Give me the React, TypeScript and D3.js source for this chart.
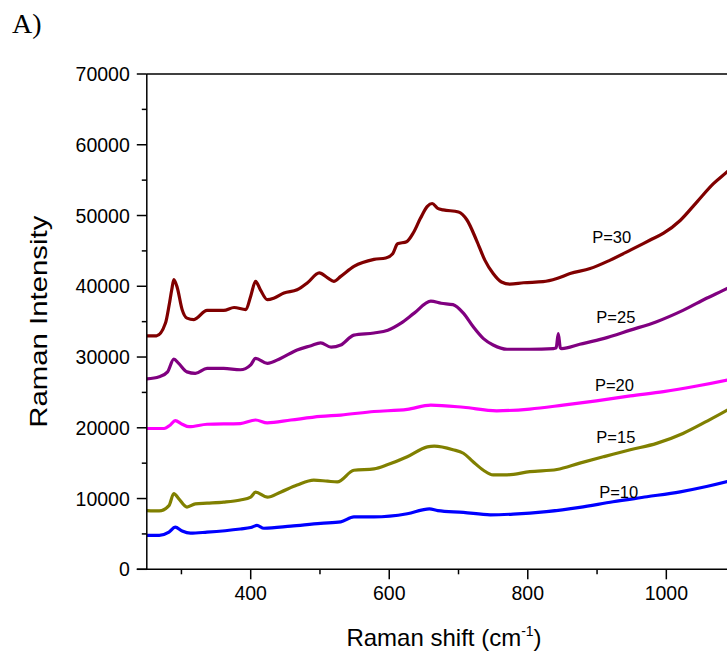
import React from "react";
import * as d3 from "d3";

const W = 727;
const H = 652;

const xTicksMajor = [400, 600, 800, 1000];
const xTicksMinor = [300, 500, 700, 900, 1100];
const yTicksMajor = [0, 10000, 20000, 30000, 40000, 50000, 60000, 70000];
const yTicksMinor = [5000, 15000, 25000, 35000, 45000, 55000, 65000];

const seriesNames = ["P=30", "P=25", "P=20", "P=15", "P=10"];
const seriesColors = ["#800000", "#800080", "#ff00ff", "#808000", "#0000ff"];

const p30x = [250, 264, 277, 282, 286, 289, 294, 301, 308, 318, 337, 361, 376, 393, 400, 407, 414, 424, 434, 448, 467, 482, 499, 511, 520, 530, 549, 578, 595, 605, 612, 625, 635, 645, 655, 662, 670, 678, 700, 712, 726, 738, 750, 762, 774, 794, 822, 842, 861, 890, 919, 948, 976, 996, 1020, 1044, 1068, 1088, 1100];
const p30y = [33000, 33000, 34800, 37200, 39500, 40950, 39800, 36700, 35500, 35300, 36600, 36600, 37000, 36700, 38600, 40700, 39500, 38100, 38350, 39050, 39500, 40500, 41900, 41200, 40700, 41400, 42800, 43800, 44000, 44600, 46000, 46300, 47600, 49600, 51300, 51700, 51000, 50800, 50500, 49400, 46500, 43700, 41800, 40600, 40300, 40500, 40650, 41100, 41800, 42500, 43700, 45100, 46500, 47500, 49300, 51900, 54500, 56200, 57300];

const p25x = [250, 268, 280, 289, 296, 308, 320, 337, 361, 385, 400, 407, 424, 443, 467, 487, 501, 516, 530, 549, 578, 598, 617, 636, 660, 675, 692, 707, 721, 736, 750, 770, 803, 837, 841, 844, 847, 849, 875, 909, 948, 986, 1024, 1058, 1088, 1100];
const p25y = [26900, 27200, 27900, 29700, 29100, 27900, 27700, 28400, 28400, 28200, 28900, 29800, 29100, 29800, 31000, 31600, 32000, 31400, 31700, 33100, 33400, 33800, 34800, 36200, 37900, 37600, 37400, 36200, 34300, 32600, 31700, 31100, 31100, 31200, 31300, 33300, 31300, 31200, 31800, 32600, 33800, 35000, 36600, 38300, 39700, 40300];

const p20x = [250, 275, 284, 291, 301, 311, 337, 385, 407, 424, 458, 501, 530, 578, 626, 660, 707, 755, 803, 851, 899, 948, 996, 1044, 1088, 1100];
const p20y = [19900, 19900, 20400, 21000, 20500, 20150, 20500, 20600, 21100, 20700, 21100, 21600, 21800, 22300, 22600, 23200, 22900, 22400, 22650, 23200, 23800, 24500, 25100, 25900, 26750, 27000];

const p15x = [250, 268, 282, 289, 296, 308, 320, 337, 361, 385, 400, 407, 424, 443, 467, 491, 511, 525, 549, 578, 598, 626, 655, 665, 692, 707, 721, 736, 750, 770, 803, 842, 875, 909, 948, 986, 1024, 1058, 1088, 1100];
const p15y = [8300, 8250, 9000, 10700, 10000, 8800, 9250, 9350, 9500, 9800, 10200, 10900, 10200, 10900, 11900, 12600, 12450, 12350, 14000, 14200, 14800, 15900, 17300, 17400, 16900, 16400, 15200, 14000, 13350, 13350, 13800, 14100, 15000, 15900, 16900, 17800, 19200, 20900, 22500, 23200];

const p10x = [250, 268, 282, 291, 301, 313, 337, 385, 400, 409, 419, 458, 501, 530, 549, 578, 626, 658, 670, 707, 746, 779, 827, 875, 923, 972, 1020, 1058, 1088, 1100];
const p10y = [4800, 4800, 5250, 5950, 5400, 5100, 5250, 5700, 5900, 6200, 5800, 6100, 6500, 6700, 7400, 7400, 7850, 8550, 8300, 8050, 7700, 7800, 8150, 8750, 9550, 10250, 10950, 11700, 12400, 12700];

const seriesX = [p30x, p25x, p20x, p15x, p10x];
const seriesY = [p30y, p25y, p20y, p15y, p10y];

// label anchors in data coordinates
const labelX = [893, 899, 897, 899, 903];
const labelY = [46150, 34840, 25190, 17800, 10030];

const x0 = 146.8;
const xPer = 0.6927;
const left = x0;
const right = x0 + (1100 - 250) * xPer;
const top = 74;
const bottom = 569.3;

export default function App() {
  const x = d3.scaleLinear().domain([250, 1100]).range([left, right]);
  const y = d3.scaleLinear().domain([0, 70000]).range([bottom, top]);
  const line = d3
    .line<[number, number]>()
    .x((d) => x(d[0]))
    .y((d) => y(d[1]))
    .curve(d3.curveMonotoneX);

  const font = "Arial, 'Liberation Sans', Helvetica, sans-serif";

  return (
    <svg
      width={W}
      height={H}
      style={{ position: "absolute", left: 0, top: 0, background: "#fff" }}
      fontFamily={font}
    >
      <rect x={0} y={0} width={W} height={H} fill="#fff" />
      <defs>
        <clipPath id="plot">
          <rect x={left} y={top} width={right - left} height={bottom - top} />
        </clipPath>
      </defs>

      <text x={12} y={33} fontFamily="'Liberation Serif', 'Times New Roman', serif" fontSize={28} fill="#000">
        A)
      </text>

      <g clipPath="url(#plot)">
        {seriesX.map((xs, i) => (
          <path
            key={seriesNames[i]}
            d={line(xs.map((v, j) => [v, seriesY[i][j]] as [number, number])) || ""}
            fill="none"
            stroke={seriesColors[i]}
            strokeWidth={3.2}
            strokeLinejoin="round"
          />
        ))}
      </g>

      {seriesNames.map((n, i) => (
        <text key={n} x={x(labelX[i])} y={y(labelY[i])} fontSize={16.5} fill="#000">
          {n}
        </text>
      ))}

      {/* axes */}
      <line x1={left} x2={left} y1={top} y2={bottom} stroke="#000" strokeWidth={1.5} />
      <line x1={left - 10} x2={W + 20} y1={bottom} y2={bottom} stroke="#000" strokeWidth={1.5} />
      <line x1={left} x2={W + 20} y1={top} y2={top} stroke="#000" strokeWidth={1.5} />

      {yTicksMajor.map((t) => (
        <g key={"ym" + t}>
          <line x1={left - 10} x2={left} y1={y(t)} y2={y(t)} stroke="#000" strokeWidth={1.5} />
          <text x={left - 17} y={y(t) + 7} fontSize={19.5} textAnchor="end" fill="#000">
            {t}
          </text>
        </g>
      ))}
      {yTicksMinor.map((t) => (
        <line key={"yn" + t} x1={left - 5} x2={left} y1={y(t)} y2={y(t)} stroke="#000" strokeWidth={1.5} />
      ))}

      {xTicksMajor.map((t) => (
        <g key={"xm" + t}>
          <line x1={x(t)} x2={x(t)} y1={bottom} y2={bottom + 10} stroke="#000" strokeWidth={1.5} />
          <text x={x(t)} y={bottom + 31} fontSize={19.5} textAnchor="middle" fill="#000">
            {t}
          </text>
        </g>
      ))}
      {xTicksMinor.map((t) => (
        <line key={"xn" + t} x1={x(t)} x2={x(t)} y1={bottom} y2={bottom + 5} stroke="#000" strokeWidth={1.5} />
      ))}

      <text x={444} y={646} fontSize={24} textAnchor="middle" fill="#000">
        Raman shift (cm
        <tspan fontSize={14} dy={-10}>-1</tspan>
        <tspan dy={10}>)</tspan>
      </text>

      <text
        transform={`translate(47, ${(top + bottom) / 2}) rotate(-90)`}
        fontSize={24}
        textAnchor="middle"
        textLength={212}
        lengthAdjust="spacingAndGlyphs"
        fill="#000"
      >
        Raman Intensity
      </text>
    </svg>
  );
}
